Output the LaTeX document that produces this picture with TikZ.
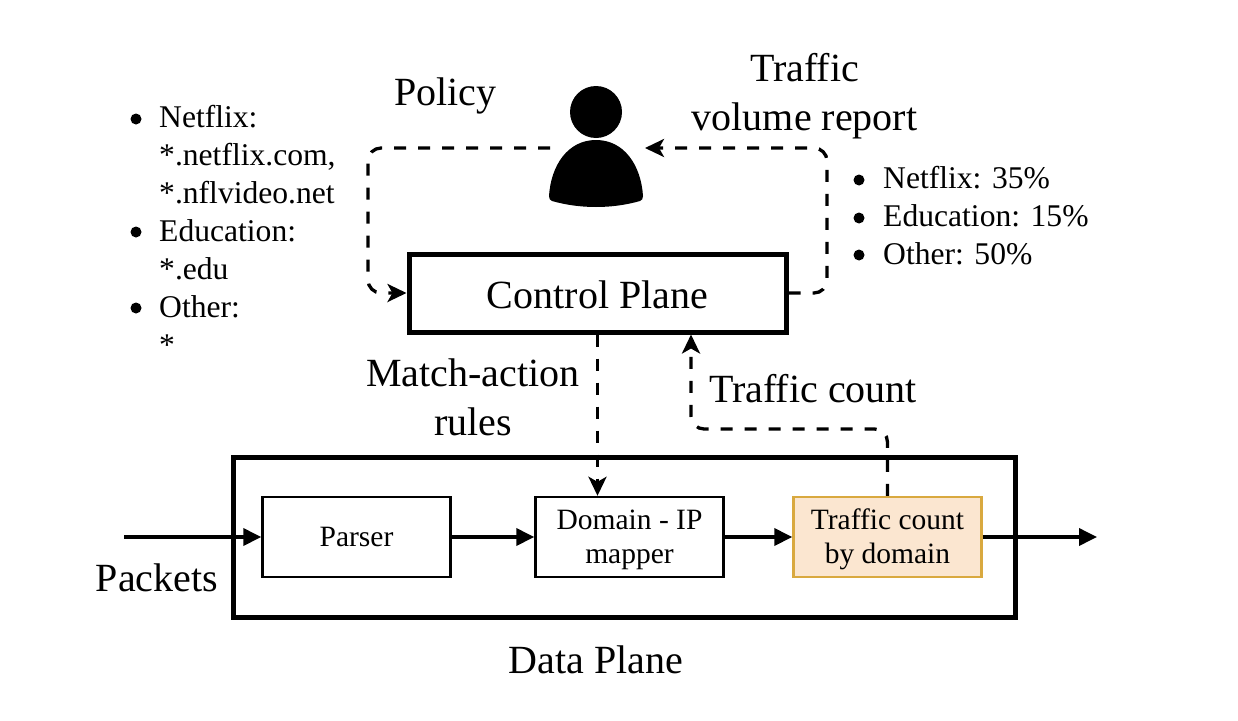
\documentclass[tikz,border=0pt]{standalone}
\usepackage{fontspec}
\setmainfont{Liberation Serif}
\usetikzlibrary{arrows.meta}
\definecolor{peach}{HTML}{FBE6D0}
\definecolor{gold}{HTML}{D9A93F}
\tikzset{
  x=1pt,y=-1pt,
  big/.style={font=\fontsize{40}{46}\selectfont,align=center,inner sep=0pt},
  lbl/.style={font=\fontsize{40}{49}\selectfont,align=center,inner sep=0pt},
  small/.style={font=\fontsize{29.5}{34.5}\selectfont,align=center,inner sep=0pt},
  inner/.style={draw=black,line width=2.4pt,fill=white,minimum width=188pt,minimum height=80pt,small,anchor=center},
  heavy/.style={draw=black,line width=5pt,fill=none,inner sep=0pt},
  flow/.style={draw=black,line width=3.6pt,-{Triangle[length=18pt,width=17pt]}},
  ctl/.style={draw=black,line width=3.3pt,dash pattern=on 12pt off 12pt,rounded corners=13pt,-{Stealth[length=19pt,width=18pt,inset=5pt]}},
  bullet/.style={font=\fontsize{31.6}{38}\selectfont,anchor=north west,inner sep=0pt,align=left}
}
\begin{document}
\begin{tikzpicture}
\useasboundingbox (0,0) rectangle (1238,720);
\fill[white] (0,0) rectangle (1238,720);
% data plane
\node[heavy,minimum width=782pt,minimum height=160pt] (data) at (624,537) {};
\node[inner] (parser) at (356.5,537) {Parser};
\node[inner] (mapper) at (629.5,537) {\rule{0pt}{25pt}Domain - IP\\mapper};
\node[inner,fill=peach,draw=gold] (count) at (887.5,537) {\rule{0pt}{25pt}Traffic count\\by domain};
\coordinate (in) at (124,537);
\coordinate (out) at (1097,537);
\draw[flow] (in) -- (parser);
\draw[flow] (parser) -- (mapper);
\draw[flow] (mapper) -- (count);
\draw[flow] (count) -- (out);
% control plane
\node[heavy,minimum width=377pt,minimum height=78pt,big] (ctrl) at (597.5,293) {\rule{0pt}{32pt}Control Plane};
% person
\fill (596,112) circle (26pt);
\fill (549,196) .. controls (551,165) and (568,140) .. (596,140) .. controls (624,140) and (641,165) .. (643,196) .. controls (643,199) and (642,200) .. (640,201) .. controls (612,209) and (580,209) .. (552,201) .. controls (550,200) and (549,199) .. (549,196) -- cycle;
\coordinate (pl) at (550,148);
\coordinate (pr) at (645,148);
\coordinate (tcbend) at (691,429);
% dashed
\draw[ctl] (pl) -- (368,148) -- (368,293) -- (ctrl.west);
\draw[ctl] (ctrl.east) -- (827,293) -- (827,148) -- (pr);
\draw[ctl] (ctrl.south) -- (ctrl.south |- mapper.north);
\draw[ctl] (count.north) -- (count.north |- tcbend) -- (tcbend) -- (tcbend |- ctrl.south);
% labels
\node[lbl] (policy) at (445.5,96) {Policy};
\node[lbl] (report) at (804.5,96) {Traffic\\volume report};
\node[lbl] (rules) at (473,397) {Match-action\\rules};
\node[lbl] (tc) at (813,389) {Traffic count};
\node[lbl] (pk) at (157,578) {Packets};
\node[lbl] (dp) at (596,660) {Data Plane};
% lists
\node[bullet] (l1) at (159,105) {Netflix:\\*.netflix.com,\\*.nflvideo.net\\Education:\\*.edu\\Other:\\*};
\foreach \yy in {119,232,308} {\fill (136,\yy) circle (5.5pt);}
\node[bullet] (l2) at (883,166) {Netflix: 35\%\\Education: 15\%\\Other: 50\%};
\foreach \yy in {180,218,255} {\fill (859,\yy) circle (5.5pt);}
\end{tikzpicture}
\end{document}
